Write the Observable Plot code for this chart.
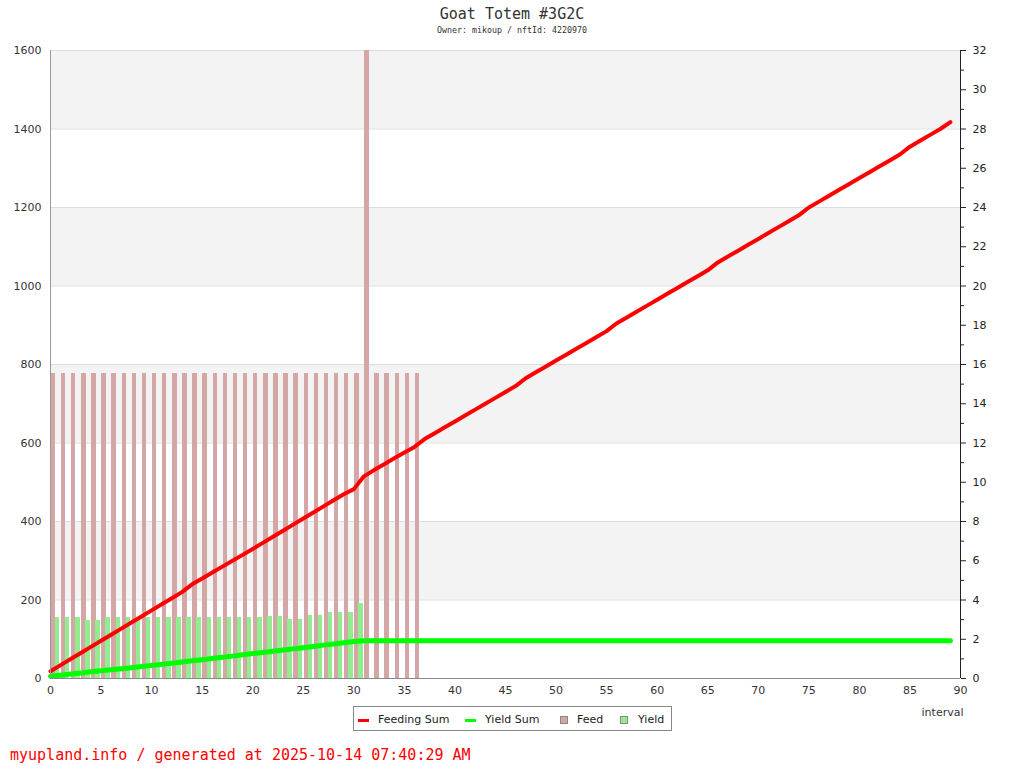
<!DOCTYPE html>
<html>
<head>
<meta charset="utf-8">
<script src="https://cdn.jsdelivr.net/npm/d3@7"></script>
<script src="https://cdn.jsdelivr.net/npm/@observablehq/plot@0.6"></script>
<style>
  html, body { margin: 0; padding: 0; background: #fff; }
  #wrap { position: relative; width: 1024px; height: 768px; overflow: hidden; background: #fff; }
  #title { position: absolute; top: 7px; left: 0; width: 1024px; text-align: center;
           font-family: "DejaVu Sans Mono", monospace; font-size: 15px; line-height: 15px; color: #333; }
  #subtitle { position: absolute; top: 26px; left: 0; width: 1024px; text-align: center;
           font-family: "DejaVu Sans Mono", monospace; font-size: 8.3px; line-height: 8px; color: #333; }
  #chart { position: absolute; top: 40px; left: 0; }
  #legend { position: absolute; left: 353px; top: 706px; width: 319px; height: 25px; box-sizing: border-box;
            border: 1px solid #888; background: #fff; font-family: "DejaVu Sans", sans-serif; font-size: 11px; color: #222; }
  #legend .sw { position: absolute; }
  #legend .tx { position: absolute; top: 7px; line-height: 12px; white-space: nowrap; }
  #footer { position: absolute; left: 10px; top: 748px; font-family: "DejaVu Sans Mono", monospace;
            font-size: 15px; line-height: 15px; color: #ff0000; white-space: nowrap; }
</style>
</head>
<body>
<div id="wrap">
  <div id="title">Goat Totem #3G2C</div>
  <div id="subtitle">Owner: mikoup / nftId: 4220970</div>
  <div id="chart"></div>
  <div id="legend"></div>
  <div id="footer">myupland.info / generated at 2025-10-14 07:40:29 AM</div>
</div>
<script>
// ---- data ----
const intervals = d3.range(0, 90);

// Feeding Sum (right axis units)
const feedingSum = [
  0.37, 0.68, 0.99, 1.30, 1.61, 1.92, 2.23, 2.54, 2.85, 3.16,
  3.47, 3.78, 4.09, 4.40, 4.80, 5.10, 5.40, 5.70, 6.00, 6.30,
  6.60, 6.91, 7.22, 7.53, 7.84, 8.15, 8.46, 8.77, 9.08, 9.39,
  9.65, 10.30, 10.62, 10.92, 11.22, 11.51, 11.80, 12.20, 12.50, 12.80,
  13.10, 13.40, 13.70, 14.00, 14.30, 14.60, 14.90, 15.30, 15.60, 15.90,
  16.20, 16.50, 16.80, 17.10, 17.40, 17.70, 18.10, 18.40, 18.70, 19.00,
  19.30, 19.60, 19.90, 20.20, 20.50, 20.80, 21.20, 21.50, 21.80, 22.10,
  22.40, 22.70, 23.00, 23.30, 23.60, 24.00, 24.30, 24.60, 24.90, 25.20,
  25.50, 25.80, 26.10, 26.40, 26.70, 27.10, 27.40, 27.70, 28.00, 28.35
];

// Yield Sum (right axis units)
const yieldSum = [
  0.12, 0.17, 0.23, 0.28, 0.34, 0.39, 0.45, 0.50, 0.55, 0.61,
  0.66, 0.72, 0.78, 0.84, 0.90, 0.96, 1.02, 1.08, 1.14, 1.21,
  1.27, 1.33, 1.39, 1.45, 1.51, 1.57, 1.63, 1.70, 1.76, 1.82,
  1.89, 1.92, 1.92, 1.92, 1.92, 1.92, 1.92, 1.92, 1.92, 1.92,
  1.92, 1.92, 1.92, 1.92, 1.92, 1.92, 1.92, 1.92, 1.92, 1.92,
  1.92, 1.92, 1.92, 1.92, 1.92, 1.92, 1.92, 1.92, 1.92, 1.92,
  1.92, 1.92, 1.92, 1.92, 1.92, 1.92, 1.92, 1.92, 1.92, 1.92,
  1.92, 1.92, 1.92, 1.92, 1.92, 1.92, 1.92, 1.92, 1.92, 1.92,
  1.92, 1.92, 1.92, 1.92, 1.92, 1.92, 1.92, 1.92, 1.92, 1.92
];

// Feed per interval (left axis units), intervals 0..36
const feed = [
  777, 777, 777, 777, 777, 777, 777, 777, 777, 777,
  777, 777, 777, 777, 777, 777, 777, 777, 777, 777,
  777, 777, 777, 777, 777, 777, 777, 777, 777, 777,
  777, 2000, 777, 777, 777, 777, 777
];

// Yield per interval (left axis units), intervals 0..30
const yields = [
  155, 155, 155, 148, 148, 155, 155, 155, 155, 155,
  155, 155, 155, 155, 155, 155, 155, 155, 155, 155,
  155, 158, 158, 150, 150, 160, 160, 168, 168, 168,
  190
];

const bandStarts = [200, 600, 1000, 1400];
const bandEnds = [400, 800, 1200, 1600];
const leftTicks = [0, 200, 400, 600, 800, 1000, 1200, 1400, 1600];
const rightTicks = [0, 2, 4, 6, 8, 10, 12, 14, 16, 18, 20, 22, 24, 26, 28, 30, 32];
const rightMinor = [1, 3, 5, 7, 9, 11, 13, 15, 17, 19, 21, 23, 25, 27, 29, 31];
const xTicks = [0, 5, 10, 15, 20, 25, 30, 35, 40, 45, 50, 55, 60, 65, 70, 75, 80, 85, 90];
const ratio = 50; // left units per right unit

const colors = {feedingSum: "#ff0000", yieldSum: "#00ff00", feed: "#d4a6a6", yield: "#90ee90"};

const chart = Plot.plot({
  width: 1024,
  height: 700,
  marginLeft: 50,
  marginRight: 64,
  marginTop: 10,
  marginBottom: 62,
  style: {fontFamily: "'DejaVu Sans', sans-serif", fontSize: "11px", color: "#333", background: "transparent"},
  x: {domain: [0, 90]},
  y: {domain: [0, 1600]},
  marks: [
    Plot.rect(bandStarts, {y1: d => d, y2: (d, i) => bandEnds[i], fill: "#f3f3f3"}),
    Plot.ruleY(leftTicks.slice(1), {stroke: "#dedede"}),
    Plot.rect(feed, {x1: (d, i) => i + 0.08, x2: (d, i) => i + 0.52, y1: 0, y2: d => d, fill: colors.feed,
                     clip: true, shapeRendering: "crispEdges"}),
    Plot.rect(yields, {x1: (d, i) => i + 0.48, x2: (d, i) => i + 0.92, y1: 0, y2: d => d, fill: colors.yield,
                       shapeRendering: "crispEdges"}),
    Plot.line(intervals, {x: d => d, y: (d, i) => yieldSum[i] * ratio, stroke: colors.yieldSum, strokeWidth: 5}),
    Plot.line(intervals, {x: d => d, y: (d, i) => feedingSum[i] * ratio, stroke: colors.feedingSum, strokeWidth: 4}),
    Plot.ruleX([0], {stroke: "#999"}),
    Plot.ruleY([0], {stroke: "#888"}),
    Plot.ruleX([90], {stroke: "#222"}),
    Plot.axisX({ticks: xTicks, tickSize: 0, tickPadding: 8, label: null}),
    Plot.axisY({anchor: "left", ticks: leftTicks, tickSize: 0, tickPadding: 9, tickFormat: d => String(d), label: null}),
    Plot.axisY({anchor: "right", ticks: rightTicks.map(d => d * ratio), tickSize: 5, tickPadding: 7,
                tickFormat: d => String(d / ratio), label: null, stroke: "#222", fill: "#222"}),
    Plot.axisY({anchor: "right", ticks: rightMinor.map(d => d * ratio), tickSize: 3,
                tickFormat: () => "", label: null, stroke: "#222"}),
    Plot.text(["interval"], {frameAnchor: "bottom-right", textAnchor: "end", dx: 3, dy: 37, fill: "#333"})
  ]
});
document.getElementById("chart").appendChild(chart);

// ---- legend ----
const legendItems = [
  {label: "Feeding Sum", type: "line", color: colors.feedingSum, swLeft: 4, txLeft: 24},
  {label: "Yield Sum", type: "line", color: colors.yieldSum, swLeft: 111, txLeft: 131},
  {label: "Feed", type: "box", color: colors.feed, swLeft: 206, txLeft: 223},
  {label: "Yield", type: "box", color: colors.yield, swLeft: 266, txLeft: 284}
];
const legend = document.getElementById("legend");
for (const it of legendItems) {
  const sw = document.createElement("div");
  sw.className = "sw";
  if (it.type === "line") {
    Object.assign(sw.style, {left: it.swLeft + "px", top: "12px", width: "11px", height: "3px", background: it.color});
  } else {
    Object.assign(sw.style, {left: it.swLeft + "px", top: "9px", width: "8px", height: "8px",
      background: it.color, border: "1px solid #888", boxSizing: "border-box"});
  }
  legend.appendChild(sw);
  const tx = document.createElement("div");
  tx.className = "tx";
  tx.style.left = it.txLeft + "px";
  tx.textContent = it.label;
  legend.appendChild(tx);
}
</script>
</body>
</html>
